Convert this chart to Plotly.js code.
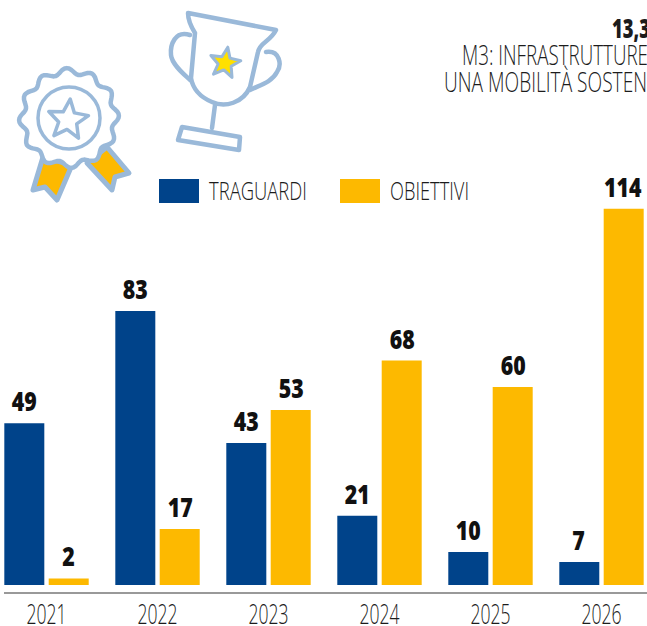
<!DOCTYPE html>
<html><head><meta charset="utf-8">
<script src="https://cdn.plot.ly/plotly-3.0.1.min.js"></script>
<style>html,body{margin:0;padding:0;background:#fff;overflow:hidden}</style></head>
<body><div id="chart" style="width:647px;height:626px"></div>
<script>
const years = ['2021','2022','2023','2024','2025','2026'];
const traguardi = [49,83,43,21,10,7];
const obiettivi = [2,17,53,68,60,114];
const seriesNames = ['TRAGUARDI','OBIETTIVI'];
const BLUE='#00438a', YELLOW='#fdb900', ICON='#9ab9d9', INK='#1c1c1c';
const FONT='"Open Sans",sans-serif';
const W=647,H=626,PH=592;
const px=x=>x/W, py=y=>(PH-y)/PH;

function star(cx,cy,R,r,rot){let p=[];for(let i=0;i<10;i++){const a=(rot-90+i*36)*Math.PI/180,q=i%2?r:R;p.push((cx+q*Math.cos(a)).toFixed(1)+','+(cy+q*Math.sin(a)).toFixed(1));}return p.join(' ');}
function wavy(cx,cy,R,amp,n){let d='';const N=n*12;for(let i=0;i<=N;i++){const a=i/N*2*Math.PI,q=R+amp*Math.cos(n*a+0.6);d+=(i?'L':'M')+(cx+q*Math.cos(a)).toFixed(1)+','+(cy+q*Math.sin(a)).toFixed(1);}return d+'Z';}
const svg=`<svg xmlns="http://www.w3.org/2000/svg" width="300" height="210" viewBox="0 0 300 210"><g fill="none" stroke="${ICON}" stroke-linejoin="round" stroke-linecap="round">
<polygon points="43,157 33,190 45,187 57,200 72,165" fill="${YELLOW}" stroke-width="5"/>
<polygon points="87,163 107,147 129,173 115,177 112,190" fill="${YELLOW}" stroke-width="5"/>
<path d="${wavy(69,118,47,3,12)}" fill="#fff" stroke-width="4.5"/>
<circle cx="69" cy="118" r="31" stroke-width="3.5"/>
<polygon points="${star(68,120,21,9.5,6)}" stroke-width="3.5"/>
<path d="M188,13 L276,30 C270,42 260,42 258,52 L250,87 C243,103 225,108 212,102 C200,97 193,90 191,78 L195,33 C190,25 188,20 188,13 Z" stroke-width="4.5"/>
<path d="M190,35 C175,30 170,45 171,55 C172,65 185,75 190,80" stroke-width="4.5"/>
<path d="M266,52 C280,50 282,65 277,72 C272,82 260,85 250,90" stroke-width="4.5"/>
<path d="M215,105 L212,128" stroke-width="4.5"/>
<polygon points="182,127 240,137 239,150 178,140" stroke-width="4.5"/>
<polygon points="${star(225,63,16,7,10)}" fill="#ffe000" stroke-width="3"/>
</g></svg>`;

const mkBar=(name,vals,color)=>({type:'bar',name,x:years,y:vals,marker:{color,line:{width:0}},hoverinfo:'x+y'});
const labels=(vals,shift)=>vals.map((v,i)=>({x:i,y:v,xref:'x',yref:'y',text:String(v),showarrow:false,xanchor:'center',yanchor:'bottom',xshift:shift,yshift:2,font:{family:FONT,size:26,weight:800,color:'#111'}}));
const txt=(x,y,text,size,weight)=>({x:px(x),y:py(y),xref:'paper',yref:'paper',text,showarrow:false,xanchor:'left',yanchor:'middle',font:{family:FONT,size,weight:weight||300,color:INK}});

// on-screen widths of the left-anchored, condensed texts
const squeezedWidth={'TRAGUARDI':98,'OBIETTIVI':79,'13,3':38,'M3: INFRASTRUTTURE':186,'UNA MOBILITÀ SOSTEN':203};

Plotly.newPlot('chart',[mkBar(seriesNames[0],traguardi,BLUE),mkBar(seriesNames[1],obiettivi,YELLOW)],{
  width:W,height:H,margin:{l:0,r:0,t:0,b:34,pad:0},paper_bgcolor:'#fff',plot_bgcolor:'#fff',
  showlegend:false,barmode:'group',bargap:0.2,bargroupgap:0.099,
  xaxis:{type:'category',domain:[4/W,1],range:[-0.383,5.41],showgrid:false,zeroline:false,showline:true,linecolor:'#999',linewidth:2,ticks:'',tickfont:{family:FONT,size:27,weight:300,color:INK},ticklabelstandoff:0},
  yaxis:{range:[-2.12,177.28],visible:false,showgrid:false,zeroline:false},
  images:[{source:'data:image/svg+xml;utf8,'+encodeURIComponent(svg),xref:'paper',yref:'paper',x:0,y:1,sizex:300/W,sizey:210/PH,xanchor:'left',yanchor:'top',sizing:'stretch',layer:'above'}],
  shapes:[
    {type:'rect',xref:'paper',yref:'paper',x0:px(159),x1:px(199),y0:py(203),y1:py(179),fillcolor:BLUE,line:{width:0}},
    {type:'rect',xref:'paper',yref:'paper',x0:px(340),x1:px(380),y0:py(203),y1:py(179),fillcolor:YELLOW,line:{width:0}}
  ],
  annotations:[...labels(traguardi,-22.5),...labels(obiettivi,22),
    txt(207,190,seriesNames[0],26),txt(388,190,seriesNames[1],26),
    txt(610,28,'13,3',26,800),txt(460,54,'M3: INFRASTRUTTURE',28),txt(442,81,'UNA MOBILITÀ SOSTEN',28)]
},{displayModeBar:false,staticPlot:true}).then(gd=>{
  // The reference face is condensed: squeeze the glyphs, keeping real text.
  const squeeze=(el,target)=>{el.setAttribute('textLength',target.toFixed(1));el.setAttribute('lengthAdjust','spacingAndGlyphs');};
  gd.querySelectorAll('.xtick text').forEach(el=>{
    squeeze(el,el.getComputedTextLength()*0.65);
    el.setAttribute('y',(parseFloat(el.getAttribute('y'))-2).toFixed(1));
  });
  gd.querySelectorAll('.annotation-text').forEach(el=>{
    const w=el.getComputedTextLength(), t=squeezedWidth[el.textContent];
    if(t){ el.setAttribute('x',(parseFloat(el.getAttribute('x')||0)-(w-t)/2).toFixed(1)); squeeze(el,t); }
    else squeeze(el,w*0.82);
  });
});
</script></body></html>
